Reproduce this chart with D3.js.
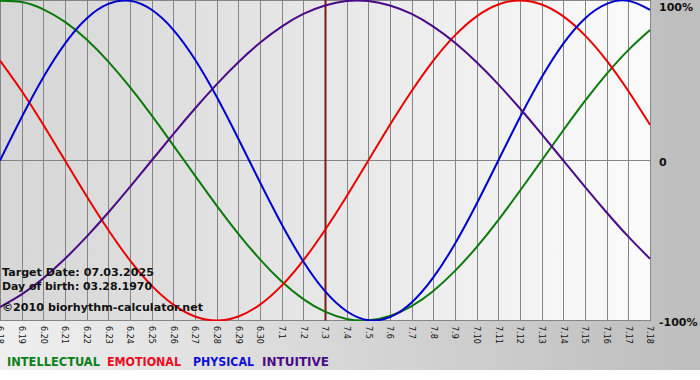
<!DOCTYPE html>
<html><head><meta charset="utf-8">
<script src="https://cdn.jsdelivr.net/npm/d3@7"></script>
<style>html,body{margin:0;padding:0;background:#fff;}svg{display:block;}</style>
</head><body>
<svg id="c" width="700" height="380"></svg>
<script>
const dayLabels = ["6.18","6.19","6.20","6.21","6.22","6.23","6.24","6.25","6.26","6.27","6.28","6.29","6.30","7.1","7.2","7.3","7.4","7.5","7.6","7.7","7.8","7.9","7.10","7.11","7.12","7.13","7.14","7.15","7.16","7.17","7.18"];
const intellectual = [0.999,0.990,0.945,0.866,0.756,0.618,0.458,0.282,0.095,-0.095,-0.282,-0.458,-0.618,-0.756,-0.866,-0.945,-0.990,-0.999,-0.972,-0.910,-0.815,-0.690,-0.541,-0.372,-0.189,0,0.189,0.372,0.541,0.690,0.815];
const emotional = [0.624,0.434,0.223,0,-0.223,-0.434,-0.624,-0.782,-0.901,-0.975,-1,-0.975,-0.901,-0.782,-0.624,-0.434,-0.223,0,0.223,0.434,0.624,0.782,0.901,0.975,1,0.975,0.901,0.782,0.624,0.434,0.223];
const physical = [0,0.270,0.520,0.731,0.888,0.979,0.998,0.942,0.817,0.631,0.398,0.136,-0.136,-0.398,-0.631,-0.817,-0.942,-0.998,-0.979,-0.888,-0.731,-0.520,-0.270,0,0.270,0.520,0.731,0.888,0.979,0.998,0.942];
const intuitive = [-0.916,-0.837,-0.736,-0.614,-0.476,-0.325,-0.165,0,0.165,0.325,0.476,0.614,0.736,0.837,0.916,0.969,0.997,0.997,0.969,0.916,0.837,0.736,0.614,0.476,0.325,0.165,0,-0.165,-0.325,-0.476,-0.614];
const yTickLabels = ["100%","0","-100%"];
const yTickValues = [1,0,-1];
const targetLabel = "7.3";
const infoLines = ["Target Date: 07.03.2025","Day of birth: 03.28.1970","©2010 biorhythm-calculator.net"];
const legendNames = ["INTELLECTUAL","EMOTIONAL","PHYSICAL","INTUITIVE"];

const series = [
  {name:"INTELLECTUAL", values:intellectual, color:"#0b7a0b"},
  {name:"EMOTIONAL", values:emotional, color:"#e80000"},
  {name:"PHYSICAL", values:physical, color:"#0000cc"},
  {name:"INTUITIVE", values:intuitive, color:"#4b0a86"}
];
const legendColors = {"INTELLECTUAL":"#0b7f1b","EMOTIONAL":"#ee0a1e","PHYSICAL":"#1010d8","INTUITIVE":"#4b0a86"};

const W = 700, plotW = 650, plotTop = 0.5, plotBottom = 320.5, stripBottom = 370;
const svg = d3.select("#c");
const defs = svg.append("defs");
const g1 = defs.append("linearGradient").attr("id","bgGrad").attr("x1","0").attr("x2","1").attr("y1","0").attr("y2","0");
g1.append("stop").attr("offset","0").attr("stop-color","#efefef");
g1.append("stop").attr("offset","1").attr("stop-color","#bdbdbd");
const g2 = defs.append("linearGradient").attr("id","plotGrad").attr("x1","0").attr("x2","1").attr("y1","0").attr("y2","0");
g2.append("stop").attr("offset","0").attr("stop-color","#d6d6d6");
g2.append("stop").attr("offset","0.5").attr("stop-color","#e7e7e7");
g2.append("stop").attr("offset","1").attr("stop-color","#fbfbfb");
defs.append("clipPath").attr("id","clip").append("rect").attr("x",0).attr("y",0).attr("width",plotW+1).attr("height",321);

svg.append("rect").attr("x",0).attr("y",0).attr("width",W).attr("height",stripBottom).attr("fill","url(#bgGrad)");

const x = d3.scalePoint().domain(dayLabels).range([0, plotW]);
const y = d3.scaleLinear().domain([-1,1]).range([plotBottom, plotTop]);

svg.append("rect").attr("x",0).attr("y",0).attr("width",plotW).attr("height",321).attr("fill","url(#plotGrad)");

// vertical grid
svg.append("g").selectAll("line").data(dayLabels).join("line")
  .attr("x1",d=>Math.round(x(d))+0.5).attr("x2",d=>Math.round(x(d))+0.5)
  .attr("y1",0).attr("y2",plotBottom)
  .attr("stroke","#858585").attr("stroke-width",1);
// horizontal grid
svg.append("g").selectAll("line").data(yTickValues).join("line")
  .attr("x1",0).attr("x2",Math.round(x(dayLabels[dayLabels.length-1]))+1)
  .attr("y1",d=>Math.round(y(d)-0.5)+0.5).attr("y2",d=>Math.round(y(d)-0.5)+0.5)
  .attr("stroke","#858585").attr("stroke-width",1);

// target date line
svg.append("line")
  .attr("x1",Math.round(x(targetLabel))+0.5).attr("x2",Math.round(x(targetLabel))+0.5)
  .attr("y1",0).attr("y2",plotBottom)
  .attr("stroke","#7a1a1a").attr("stroke-width",2);

// curves
const line = d3.line().x((d,i)=>x(dayLabels[i])).y(d=>y(d)).curve(d3.curveNatural);
svg.append("g").attr("clip-path","url(#clip)").selectAll("path").data(series).join("path")
  .attr("d",s=>line(s.values)).attr("fill","none").attr("stroke",s=>s.color).attr("stroke-width",2);

// info text
const infoY = [276, 290, 311];
const infoLen = [152, 150, 201];
svg.append("g").selectAll("text").data(infoLines).join("text")
  .attr("x",2).attr("y",(d,i)=>infoY[i])
  .attr("textLength",(d,i)=>infoLen[i]).attr("lengthAdjust","spacingAndGlyphs")
  .style("font-family","'DejaVu Sans', Verdana, sans-serif").style("font-weight","bold").style("font-size","11px")
  .attr("fill","#111").text(d=>d);

// y labels
const yLabX = [659, 659, 659];
const yLabY = [11, 166, 326];
svg.append("g").selectAll("text").data(yTickLabels).join("text")
  .attr("x",(d,i)=>yLabX[i]).attr("y",(d,i)=>yLabY[i])
  .style("font-family","'DejaVu Sans', Verdana, sans-serif").style("font-weight","bold").style("font-size","11px")
  .attr("fill","#111").text(d=>d);

// x tick labels rotated
svg.append("g").selectAll("text").data(dayLabels).join("text")
  .attr("transform",d=>`translate(${x(d)},326) rotate(90)`)
  .attr("dy","0.35em")
  .style("font-family","'DejaVu Sans', Verdana, sans-serif").style("font-size","8px")
  .attr("fill","#111").text(d=>d);

// legend
const legX = [7, 107, 193, 262];
const legLen = [93, 74, 61, 67];
svg.append("g").selectAll("text").data(legendNames).join("text")
  .attr("x",(d,i)=>legX[i]).attr("y",366)
  .attr("textLength",(d,i)=>legLen[i]).attr("lengthAdjust","spacingAndGlyphs")
  .style("font-family","'DejaVu Sans', Verdana, sans-serif").style("font-weight","bold").style("font-size","11.5px")
  .attr("fill",d=>legendColors[d]).text(d=>d);
</script>
</body></html>
